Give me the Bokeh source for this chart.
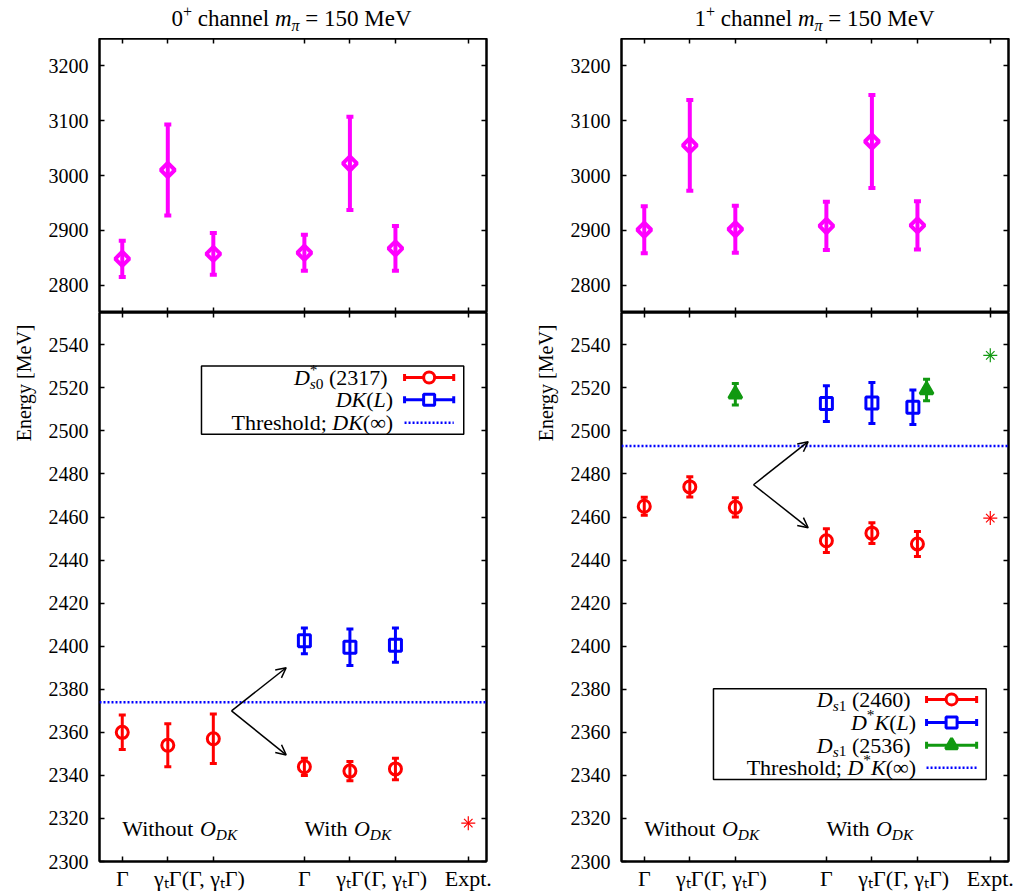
import math
from bokeh.plotting import figure
from bokeh.models import (Label, LinearAxis, FixedTicker, Arrow, OpenHead, Span,
                          BoxAnnotation, Div, Title, CustomLabelingPolicy)
from bokeh.layouts import row, column
from bokeh.embed import file_html
from bokeh.resources import INLINE

# ---------------------------------------------------------------- data
conf_x = [1, 2, 3, 5, 6, 7]          # operator bases, without / with O_DK
expt_x = 8.6
x_ticks = [1, 2, 3, 5, 6, 7, 8.6]
x_tick_labels = ["Γ", "γₜΓ", "(Γ, γₜΓ)", "Γ", "γₜΓ", "(Γ, γₜΓ)", "Expt."]

# excited states (upper panels)
exc0_E = [2848, 3010, 2857, 2859, 3022, 2867]
exc0_err = [33, 83, 38, 33, 85, 41]
exc1_E = [2901, 3055, 2902, 2908, 3062, 2909]
exc1_err = [43, 83, 43, 44, 85, 44]

# 0+ channel
ds0_E = [2360, 2354, 2357, 2344, 2342, 2343]
ds0_err = [8, 10, 11.5, 4, 4.5, 5]
dk_x = [5, 6, 7]
dk_E = [2402.5, 2399.5, 2400.5]
dk_err = [6, 8.5, 8]
thr0 = 2374
expt0 = 2317.8

# 1+ channel
ds1_E = [2465, 2474, 2464.5, 2449, 2452.5, 2447.5]
ds1_err = [4.2, 4.7, 4.5, 5.5, 4.8, 5.8]
dsk_x = [5, 6, 6.9]
dsk_E = [2512.7, 2513, 2511]
dsk_err = [8.3, 9.5, 8]
ds1b_x = [3, 7.2]
ds1b_E = [2517, 2519]
ds1b_err = [5, 5]
thr1 = 2493
expt1_2460 = 2459.5
expt1_2536 = 2535.1

# arrows: (x_start, y_start, x_end, y_end_up, y_end_down)
arrow0 = [3.4, 2370, 4.6, 2390, 2349.5]
arrow1 = [3.4, 2475, 4.6, 2495, 2455]

# ---------------------------------------------------------------- style
FONT = "Liberation Serif"
FS = 20      # tick numbers
TS = 22      # words
RED, BLUE, GREEN, MAG = "#ff0000", "#0000ff", "#119911", "#ff00ff"

W_N = {' ': .25, '(': .333, ')': .333, ',': .25, '.': .25, ';': .278, '=': .564,
       '+': .564, '*': .5, '[': .333, ']': .333, 'D': .722, 'E': .611, 'K': .722,
       'L': .611, 'M': .889, 'O': .722, 'T': .611, 'V': .722, 'W': .944, 'a': .444,
       'c': .444, 'd': .5, 'e': .444, 'g': .5, 'h': .5, 'i': .278, 'l': .278,
       'n': .5, 'o': .5, 'p': .5, 'r': .333, 's': .389, 't': .278, 'u': .5,
       'x': .5, 'y': .5, 'Γ': .578, 'γ': .43, 'π': .54, '∞': .713}
W_I = {'D': .722, 'K': .667, 'L': .556, 'O': .722, 'm': .722, 's': .389,
       't': .278, 'γ': .43, 'π': .54}

HIDE_LABELS = CustomLabelingPolicy(code="""
for (const i of indices) { indices.unset(i) }
return indices
""")


def text_width(s, italic, size):
    tab = W_I if italic else W_N
    return sum(tab.get(c, W_N.get(c, 0.5)) for c in s) * size


def rich(p, x, y, segs, align="left", size=TS):
    """Draw a run of text pieces (normal / italic / sub / sup) as labels."""
    parts, total = [], 0.0
    for s, kind in segs:
        italic = kind.startswith("i")
        small = kind.endswith("sub") or "sup" in kind
        fs = size * 0.7 if small else size
        if kind.endswith("sub"):
            dy = -0.28 * size
        elif "sup" in kind:
            dy = 0.36 * size
        else:
            dy = 0
        parts.append((s, italic, fs, total, dy))
        if kind != "supz":
            total += text_width(s, italic, fs)
    shift = {"left": 0, "center": -total / 2, "right": -total}[align]
    for s, italic, fs, off, dy in parts:
        p.add_layout(Label(x=x, y=y, x_offset=off + shift, y_offset=dy,
                           text=s, text_font=FONT, text_font_size=f"{fs:.1f}px",
                           text_font_style="italic" if italic else "normal",
                           text_align="left", text_baseline="alphabetic",
                           text_color="black"))


def style_axis(ax, ticks, labels, size=FS):
    ax.ticker = FixedTicker(ticks=ticks)
    ax.axis_line_width = 2
    ax.axis_line_color = "black"
    ax.major_tick_in = 5
    ax.major_tick_out = 0
    ax.major_tick_line_width = 1.5
    ax.minor_tick_line_color = None
    ax.major_label_text_font = FONT
    ax.major_label_text_color = "black"
    if labels:
        ax.major_label_text_font_size = f"{size}px"
        ax.major_label_standoff = 11
    else:
        ax.major_label_text_font_size = "0px"
        ax.major_label_standoff = 0
        ax.major_label_policy = HIDE_LABELS


def panel(y_range, yticks, frame_h, b_left, b_right, b_top, b_bottom, xlab):
    p = figure(frame_width=387, frame_height=frame_h, x_range=(0.5, 9),
               y_range=y_range, output_backend="svg", toolbar_location=None,
               min_border_left=b_left, min_border_right=b_right,
               min_border_top=b_top, min_border_bottom=b_bottom)
    p.grid.visible = False
    p.outline_line_color = "black"
    p.outline_line_width = 2
    p.background_fill_color = "white"
    p.border_fill_color = "white"
    style_axis(p.xaxis[0], x_ticks, xlab, TS)
    if xlab:
        p.xaxis[0].major_label_overrides = dict(zip(x_ticks, x_tick_labels))
        p.xaxis[0].major_label_standoff = 4
    style_axis(p.yaxis[0], yticks, True)
    top = LinearAxis()
    style_axis(top, x_ticks, False)
    p.add_layout(top, "above")
    right = LinearAxis()
    style_axis(right, yticks, False)
    p.add_layout(right, "right")
    return p


def errpoints(p, xs, ys, errs, color, marker, size, lw=3, fill=None, angle=0):
    lo = [y - e for y, e in zip(ys, errs)]
    hi = [y + e for y, e in zip(ys, errs)]
    p.segment(x0=xs, y0=lo, x1=xs, y1=hi, line_color=color, line_width=lw)
    p.scatter(x=xs + xs, y=lo + hi, marker="dash", size=7, line_color=color,
              line_width=lw)
    p.scatter(x=xs, y=ys, marker=marker, size=size, line_color=color, angle=angle,
              line_width=lw, fill_color=fill if fill else None)


def star(p, x, y, color):
    p.scatter(x=[x], y=[y], marker="cross", size=14, line_color=color, line_width=1.2)
    p.scatter(x=[x], y=[y], marker="x", size=12, line_color=color, line_width=1.2)


def legend_sample(p, x0, x1, y, color, marker, size, fill=None, dotted=False):
    if dotted:
        p.segment(x0=[x0], y0=[y], x1=[x1], y1=[y], line_color=color,
                  line_width=2.5, line_dash="2 2")
        return
    p.segment(x0=[x0], y0=[y], x1=[x1], y1=[y], line_color=color, line_width=3)
    p.scatter(x=[x0, x1], y=[y, y], marker="dash", angle=math.pi / 2, size=7,
              line_color=color, line_width=3)
    p.scatter(x=[(x0 + x1) / 2], y=[y], marker=marker, size=size, line_color=color,
              line_width=3, fill_color=fill if fill else "white")


def arrows(p, a):
    for ye in (a[3], a[4]):
        p.add_layout(Arrow(end=OpenHead(size=10, line_width=1.5, line_color="black"),
                           x_start=a[0], y_start=a[1], x_end=a[2], y_end=ye,
                           line_width=1.5, line_color="black"))


def energy_title(p):
    p.add_layout(Title(text="Energy [MeV]", align="right", offset=12, standoff=21,
                       text_font=FONT, text_font_size=f"{FS}px",
                       text_font_style="normal", text_color="black"), "left")


def heading(spin, left):
    html = (f'<div style="font-family: \'{FONT}\'; font-size: 23px; color: black; '
            f'text-align: center; width: 387px; margin-left: {left}px; '
            f'line-height: 24px; white-space: nowrap;">'
            f'{spin}<sup style="font-size: 16px">+</sup> channel '
            f'<i>m</i><sub style="font-size: 16px"><i>π</i></sub> = 150 MeV</div>')
    return Div(text=html, width=500 if left < 110 else 515, height=38, margin=0)


# ---------------------------------------------------------------- 0+ channel
h0 = heading(0, 98)
t0 = panel((2750, 3250), [2800, 2900, 3000, 3100, 3200], 274, 98, 15, 0, 0, False)
errpoints(t0, conf_x, exc0_E, exc0_err, MAG, "square", 10, lw=4, angle=math.pi / 4)

b0 = panel((2300, 2555), list(range(2300, 2541, 20)), 549, 98, 15, 0, 32, True)
b0.add_layout(Span(location=thr0, dimension="width", line_color=BLUE,
                   line_width=2.5, line_dash="2 2"))
errpoints(b0, conf_x, ds0_E, ds0_err, RED, "circle", 12)
errpoints(b0, dk_x, dk_E, dk_err, BLUE, "square", 12)
star(b0, expt_x, expt0, RED)
arrows(b0, arrow0)
rich(b0, 1, 2315.5, [("Without ", "n"), ("O", "i"), ("DK", "isub")])
rich(b0, 5, 2315.5, [("With ", "n"), ("O", "i"), ("DK", "isub")])
energy_title(b0)
b0.add_layout(BoxAnnotation(left=2.74, right=8.5, bottom=2498.5, top=2530.1,
                            fill_color="white", fill_alpha=1, line_color="black",
                            line_width=1.5, line_alpha=1, level="underlay"))
rich(b0, 6.95, 2524.8, [("D", "i"), ("*", "supz"), ("s", "isub"), ("0", "sub"),
                        ("\u00a0(2317)", "n")], align="right")
rich(b0, 6.95, 2514.5, [("DK", "i"), ("(", "n"), ("L", "i"), (")", "n")], align="right")
rich(b0, 6.95, 2503.8, [("Threshold; ", "n"), ("DK", "i"), ("(∞)", "n")], align="right")
legend_sample(b0, 7.2, 8.28, 2524.8, RED, "circle", 11)
legend_sample(b0, 7.2, 8.28, 2514.5, BLUE, "square", 11)
legend_sample(b0, 7.2, 8.28, 2503.8, BLUE, None, 0, dotted=True)

# ---------------------------------------------------------------- 1+ channel
h1 = heading(1, 120)
t1 = panel((2750, 3250), [2800, 2900, 3000, 3100, 3200], 274, 120, 8, 0, 0, False)
errpoints(t1, conf_x, exc1_E, exc1_err, MAG, "square", 10, lw=4, angle=math.pi / 4)

b1 = panel((2300, 2555), list(range(2300, 2541, 20)), 549, 120, 8, 0, 32, True)
b1.add_layout(Span(location=thr1, dimension="width", line_color=BLUE,
                   line_width=2.5, line_dash="2 2"))
errpoints(b1, conf_x, ds1_E, ds1_err, RED, "circle", 12)
errpoints(b1, dsk_x, dsk_E, dsk_err, BLUE, "square", 12)
errpoints(b1, ds1b_x, ds1b_E, ds1b_err, GREEN, "triangle", 13, fill=GREEN)
star(b1, expt_x, expt1_2460, RED)
star(b1, expt_x, expt1_2536, GREEN)
arrows(b1, arrow1)
rich(b1, 1, 2315.5, [("Without ", "n"), ("O", "i"), ("DK", "isub")])
rich(b1, 5, 2315.5, [("With ", "n"), ("O", "i"), ("DK", "isub")])
energy_title(b1)
b1.add_layout(BoxAnnotation(left=2.52, right=8.51, bottom=2338.1, top=2380.2,
                            fill_color="white", fill_alpha=1, line_color="black",
                            line_width=1.5, line_alpha=1, level="underlay"))
rich(b1, 6.97, 2375.3, [("D", "i"), ("s", "isub"), ("1", "sub"), ("\u00a0(2460)", "n")], align="right")
rich(b1, 6.97, 2364.6, [("D", "i"), ("*", "sup"), ("K", "i"), ("(", "n"), ("L", "i"), (")", "n")], align="right")
rich(b1, 6.97, 2354.0, [("D", "i"), ("s", "isub"), ("1", "sub"), ("\u00a0(2536)", "n")], align="right")
rich(b1, 6.97, 2343.5, [("Threshold; ", "n"), ("D", "i"), ("*", "sup"), ("K", "i"), ("(∞)", "n")], align="right")
legend_sample(b1, 7.2, 8.3, 2375.3, RED, "circle", 11)
legend_sample(b1, 7.2, 8.3, 2364.6, BLUE, "square", 11)
legend_sample(b1, 7.2, 8.3, 2354.0, GREEN, "triangle", 12, fill=GREEN)
legend_sample(b1, 7.2, 8.3, 2343.5, BLUE, None, 0, dotted=True)

layout = row(column(h0, t0, b0), column(h1, t1, b1))
open("out.html", "w").write(file_html(layout, INLINE))
